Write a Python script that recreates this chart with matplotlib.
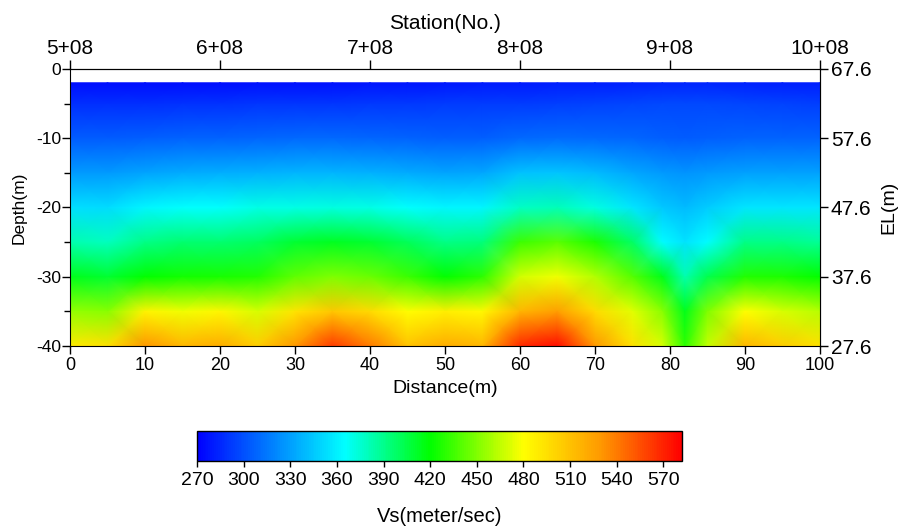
import numpy as np
import matplotlib.pyplot as plt
from matplotlib.colors import LinearSegmentedColormap

plt.rcParams['font.family'] = ['Liberation Sans', 'DejaVu Sans']
plt.rcParams['axes.unicode_minus'] = False

# grid of Vs (m/s)
distance = [0, 5, 10, 15, 20, 25, 30, 35, 40, 45, 50, 55, 60, 65, 70, 75, 79, 82, 85, 90, 95, 100]
depth = [-2, -5, -10, -15, -20, -25, -30, -35, -40]

vs_d2 = [275, 275, 275, 276, 276, 277, 277, 277, 278, 278, 279, 280, 280, 281, 282, 283, 284, 284, 284, 283, 282, 281]
vs_d5 = [288, 288, 288, 289, 289, 290, 290, 290, 291, 291, 292, 292, 293, 294, 295, 296, 297, 297, 297, 296, 295, 294]
vs_d10 = [305, 305, 306, 307, 307, 308, 309, 309, 308, 307, 306, 306, 310, 311, 310, 308, 306, 305, 306, 307, 307, 307]
vs_d15 = [328, 328, 332, 334, 335, 337, 338, 338, 337, 334, 332, 333, 342, 344, 340, 333, 328, 326, 328, 330, 330, 330]
vs_d20 = [354, 352, 362, 366, 366, 370, 371, 372, 370, 366, 362, 362, 378, 380, 372, 356, 345, 340, 346, 356, 356, 356]
vs_d25 = [383, 379, 391, 396, 396, 400, 410, 413, 410, 401, 391, 394, 434, 441, 427, 398, 365, 355, 365, 391, 391, 388]
vs_d30 = [415, 410, 420, 424, 425, 428, 443, 450, 445, 434, 420, 430, 469, 476, 462, 440, 415, 383, 404, 428, 427, 420]
vs_d35 = [455, 452, 485, 476, 484, 471, 492, 507, 497, 480, 487, 483, 515, 526, 497, 473, 452, 414, 450, 480, 471, 463]
vs_d40 = [490, 495, 530, 515, 520, 505, 530, 562, 540, 510, 520, 515, 568, 578, 530, 495, 470, 430, 465, 515, 505, 495]

depth_ticks = [0, -10, -20, -30, -40]
elev_labels = ['67.6', '57.6', '47.6', '37.6', '27.6']
station_pos = [0, 20, 40, 60, 80, 100]
station_labels = ['5+08', '6+08', '7+08', '8+08', '9+08', '10+08']
cbar_ticks = [270, 300, 330, 360, 390, 420, 450, 480, 510, 540, 570]
vmin, vmax = 270, 582

vs = np.array([vs_d2, vs_d5, vs_d10, vs_d15, vs_d20, vs_d25, vs_d30, vs_d35, vs_d40])

nodes = [(270, (0, 0, 1)), (365, (0, 1, 1)), (420, (0, 1, 0)),
         (480, (1, 1, 0)), (530, (1, 0.6, 0)), (582, (1, 0, 0))]
cmap = LinearSegmentedColormap.from_list(
    'vs', [((v - vmin) / (vmax - vmin), c) for v, c in nodes])

fig = plt.figure(figsize=(8.98, 5.30), dpi=100)
ax = fig.add_axes([0.078, 0.347, 0.835, 0.523])
mesh = ax.pcolormesh(distance, depth, vs, shading='gouraud', cmap=cmap, vmin=vmin, vmax=vmax)
ax.set_xlim(0, 100)
ax.set_ylim(-40, 0)
ax.set_xticks(range(0, 101, 10))
ax.set_yticks(depth_ticks)
ax.set_yticks(range(-35, 0, 10), minor=True)
ax.tick_params(axis='x', direction='out', length=6, width=1, labelsize=13, pad=1.5)
ax.tick_params(axis='y', direction='out', length=6, width=1, labelsize=12.5, pad=0.5)
ax.tick_params(axis='y', which='minor', length=4, width=1)
ax.set_xlabel('Distance(m)', fontsize=14, labelpad=5)
ax.set_ylabel('Depth(m)', fontsize=12.5, labelpad=7)

top = ax.secondary_xaxis('top')
top.set_xticks(station_pos, labels=station_labels)
top.tick_params(direction='out', length=6.5, width=1, labelsize=15, pad=1.5)
top.set_xlabel('Station(No.)', fontsize=15, labelpad=7)

right = ax.secondary_yaxis('right')
right.set_yticks(depth_ticks, labels=elev_labels)
right.tick_params(direction='out', length=6, width=1, labelsize=15, pad=2)
right.set_ylabel('EL(m)', fontsize=14, labelpad=6)

cax = fig.add_axes([0.2194, 0.1302, 0.5401, 0.0566])
cb = fig.colorbar(mesh, cax=cax, orientation='horizontal', ticks=cbar_ticks)
cb.ax.tick_params(length=4, width=1, labelsize=14, pad=4)
cb.set_label('Vs(meter/sec)', fontsize=14.5, labelpad=13)
cb.outline.set_linewidth(1)

fig.savefig('out.png', dpi=100)
